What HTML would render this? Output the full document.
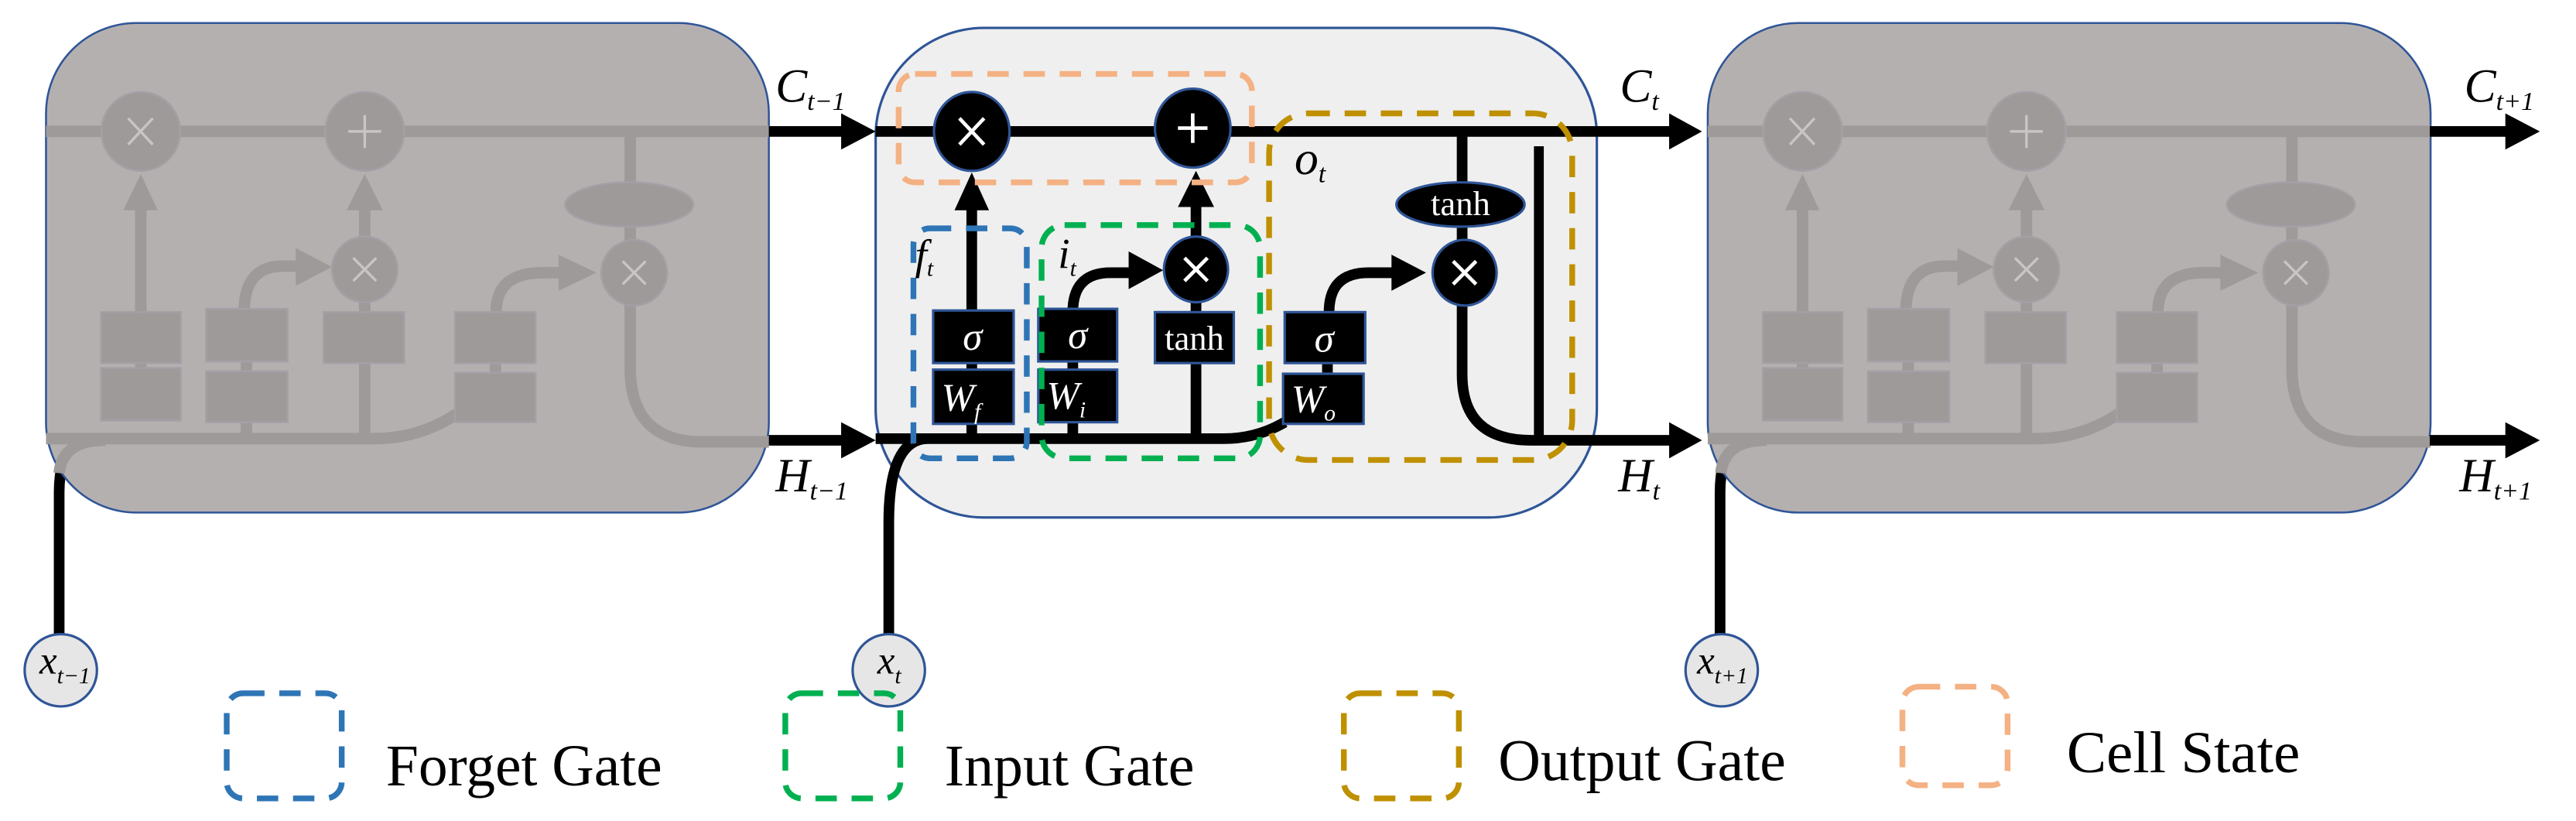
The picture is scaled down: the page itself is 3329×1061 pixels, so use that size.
<!DOCTYPE html>
<html><head><meta charset="utf-8"><style>
html,body{margin:0;padding:0;background:#fff;}
svg{display:block;}
svg text{font-family:"Liberation Serif","Times New Roman","Noto Serif CJK SC","DejaVu Serif",serif;}
</style></head><body>
<svg width="3329" height="1061" viewBox="0 0 1568 499.75" xmlns="http://www.w3.org/2000/svg">
<defs>
<g id="gcell">
  <rect x="28" y="14" width="440" height="298" rx="55" fill="#b5b0b0" stroke="#2f5597" stroke-width="1.2"/>
  <g stroke="#9e9a99" stroke-width="7" fill="none">
    <line x1="28" y1="80" x2="468" y2="80"/>
    <path d="M28 267 L228 267 Q255 267 278 252"/>
    <path d="M36 288 Q38 268 64 268"/>
    <line x1="85.7" y1="256" x2="85.7" y2="126"/>
    <line x1="150" y1="267" x2="150" y2="188"/>
    <path d="M148.6 190 Q148.6 162 172 162 L182 162"/>
    <line x1="222" y1="267" x2="222" y2="124"/>
    <line x1="301.5" y1="221" x2="301.5" y2="228"/>
    <path d="M302 190 Q302 166 330 166 L342 166"/>
    <path d="M383.6 80 L383.6 224 Q383.6 269 428 269 L468 269"/>
  </g>
  <g fill="#9e9a99" stroke="#a3a0a6" stroke-width="1.2">
    <polygon points="75,128 96,128 85.7,106" stroke="none"/>
    <polygon points="211,128 233,128 222,106" stroke="none"/>
    <polygon points="180,151 180,174 202,162.5" stroke="none"/>
    <polygon points="340,155 340,177 363,166" stroke="none"/>
    <rect x="61.5" y="190" width="48.5" height="31"/>
    <rect x="61.5" y="224" width="48.5" height="32"/>
    <rect x="125.5" y="188" width="49.5" height="32"/>
    <rect x="125.5" y="226" width="49.5" height="31"/>
    <rect x="197" y="190" width="49" height="31"/>
    <rect x="277" y="190" width="49" height="31"/>
    <rect x="277" y="227" width="49" height="30"/>
    <ellipse cx="85.7" cy="80" rx="24" ry="24"/>
    <ellipse cx="222" cy="80" rx="24" ry="24"/>
    <ellipse cx="222" cy="164" rx="20" ry="20"/>
    <ellipse cx="386" cy="166" rx="20" ry="20"/>
    <ellipse cx="383" cy="124.5" rx="39" ry="13.5"/>
  </g>
  <g stroke="#c9c5c5" stroke-width="1.6">
    <line x1="78" y1="72" x2="93" y2="88"/><line x1="93" y1="72" x2="78" y2="88"/>
    <line x1="222" y1="70" x2="222" y2="90"/><line x1="212" y1="80" x2="232" y2="80"/>
    <line x1="215" y1="157" x2="229" y2="171"/><line x1="229" y1="157" x2="215" y2="171"/>
    <line x1="379" y1="159" x2="393" y2="173"/><line x1="393" y1="159" x2="379" y2="173"/>
  </g>
</g>
</defs>

<g stroke="#000" stroke-width="6.5" fill="none">
  <path d="M36 387 L36 300 Q36 290 38 282"/>
  <path d="M1047 387 L1047 300 Q1047 290 1049 282"/>
</g>

<use href="#gcell"/>
<use href="#gcell" transform="translate(1011.5,0)"/>

<rect x="533" y="17" width="439" height="298" rx="66" fill="#efefef" stroke="#2f5597" stroke-width="1.5"/>

<g stroke="#000" stroke-width="6.5" fill="none">
  <line x1="468" y1="80" x2="514" y2="80"/>
  <line x1="468" y1="268" x2="514" y2="268"/>
  <line x1="533" y1="80" x2="1019" y2="80"/>
  <path d="M533 267 L745 267 Q765 267 782 257"/>
  <path d="M541 387 L541 318 Q541 268 564 267"/>
  <line x1="591.5" y1="267" x2="591.5" y2="126"/>
  <line x1="653" y1="267" x2="653" y2="188"/>
  <path d="M653 190 Q653 166 676 166 L689 166"/>
  <line x1="728" y1="267" x2="728" y2="124"/>
  <line x1="808" y1="221" x2="808" y2="228"/>
  <path d="M809 190 Q809 166 833 166 L849 166"/>
  <path d="M890 80 L890 228 Q890 268 932 268 L1019 268"/>
  <line x1="936.7" y1="89" x2="936.7" y2="268" stroke-width="6"/>
  <line x1="1479" y1="80" x2="1527" y2="80"/>
  <line x1="1479" y1="268" x2="1527" y2="268"/>
</g>
<g fill="#000">
  <polygon points="512,69 512,91 533,80"/>
  <polygon points="512,257 512,279 533,268"/>
  <polygon points="1016,69 1016,91 1036,80"/>
  <polygon points="1016,257 1016,279 1036,268"/>
  <polygon points="1525,69 1525,91 1546,80"/>
  <polygon points="1525,257 1525,279 1546,268"/>
  <polygon points="581,128 602,128 591.5,105"/>
  <polygon points="717,126 739,126 728,104"/>
  <polygon points="687,153 687,176 708,164.5"/>
  <polygon points="847,155 847,177 868,166"/>
</g>

<g fill="#000" stroke="#2f5597" stroke-width="1.5">
  <rect x="568" y="189" width="49" height="32"/>
  <rect x="568" y="225" width="49" height="33"/>
  <rect x="632" y="188" width="48" height="32"/>
  <rect x="632" y="225" width="48" height="32"/>
  <rect x="703" y="190" width="48" height="31"/>
  <rect x="782" y="190" width="49" height="31"/>
  <rect x="781" y="227.5" width="49" height="30.5"/>
  <ellipse cx="591.5" cy="80" rx="23" ry="24"/>
  <ellipse cx="726" cy="78" rx="23" ry="24"/>
  <ellipse cx="728" cy="164" rx="19.5" ry="20"/>
  <ellipse cx="891.5" cy="166" rx="19.5" ry="20"/>
  <ellipse cx="889" cy="124.5" rx="39" ry="13.5"/>
</g>
<g stroke="#fff" stroke-width="2.2">
  <line x1="584" y1="72" x2="599" y2="88"/><line x1="599" y1="72" x2="584" y2="88"/>
  <line x1="726" y1="69" x2="726" y2="87"/><line x1="717" y1="78" x2="735" y2="78"/>
  <line x1="721" y1="157" x2="735" y2="171"/><line x1="735" y1="157" x2="721" y2="171"/>
  <line x1="884.5" y1="159" x2="898.5" y2="173"/><line x1="898.5" y1="159" x2="884.5" y2="173"/>
</g>
<g fill="#fff" font-size="24" text-anchor="middle">
  <text x="592" y="213" font-style="italic">σ</text>
  <text x="656" y="212" font-style="italic">σ</text>
  <text x="806" y="214" font-style="italic">σ</text>
  <text x="727" y="213" font-size="21">tanh</text>
  <text x="889" y="131" font-size="21">tanh</text>
</g>
<g fill="#fff" font-style="italic" font-size="24">
  <text x="573" y="250">W<tspan font-size="14" dy="5">f</tspan></text>
  <text x="637" y="249">W<tspan font-size="14" dy="5">i</tspan></text>
  <text x="786" y="251">W<tspan font-size="14" dy="5">o</tspan></text>
</g>

<g fill="none" stroke-width="3.5" stroke-dasharray="13 9">
  <rect x="547" y="45" width="215" height="66" rx="10" stroke="#f4b183"/>
  <rect x="556" y="139" width="69" height="140" rx="10" stroke="#2e75b6"/>
  <rect x="634" y="137" width="133" height="142" rx="14" stroke="#00b050"/>
  <rect x="772.5" y="69" width="184.5" height="211" rx="24" stroke="#bf9000"/>
</g>

<g font-style="italic" fill="#000">
  <text x="557" y="164" font-size="26">f<tspan font-size="14" dy="4">t</tspan></text>
  <text x="644" y="163" font-size="26">i<tspan font-size="14" dy="5">t</tspan></text>
  <text x="788" y="106" font-size="29">o<tspan font-size="16" dy="5">t</tspan></text>
  <text x="472" y="62" font-size="29">C<tspan font-size="16" dy="5">t−1</tspan></text>
  <text x="472" y="299" font-size="29">H<tspan font-size="16" dy="5">t−1</tspan></text>
  <text x="986" y="62" font-size="29">C<tspan font-size="16" dy="5">t</tspan></text>
  <text x="985" y="299" font-size="29">H<tspan font-size="16" dy="5">t</tspan></text>
  <text x="1500" y="62" font-size="29">C<tspan font-size="16" dy="5">t+1</tspan></text>
  <text x="1497" y="299" font-size="29">H<tspan font-size="16" dy="5">t+1</tspan></text>
</g>

<g fill="#e7e6e6" stroke="#2f5597" stroke-width="1.5">
  <ellipse cx="37" cy="408" rx="22" ry="22"/>
  <ellipse cx="541" cy="408" rx="22" ry="22"/>
  <ellipse cx="1048" cy="408" rx="22" ry="22"/>
</g>
<g font-style="italic" fill="#000" font-size="24">
  <text x="24" y="410">x<tspan font-size="14" dy="6">t−1</tspan></text>
  <text x="534" y="410">x<tspan font-size="14" dy="6">t</tspan></text>
  <text x="1033" y="410">x<tspan font-size="14" dy="6">t+1</tspan></text>
</g>

<g fill="none" stroke-width="3.5" stroke-dasharray="13 9">
  <rect x="138" y="422" width="70" height="64" rx="10" stroke="#2e75b6"/>
  <rect x="478" y="422" width="70" height="64" rx="10" stroke="#00b050"/>
  <rect x="818" y="422" width="70" height="64" rx="10" stroke="#bf9000"/>
  <rect x="1158" y="418" width="64" height="60" rx="10" stroke="#f4b183"/>
</g>
<g font-size="36" fill="#000">
  <text x="235" y="478" textLength="168" lengthAdjust="spacingAndGlyphs">Forget Gate</text>
  <text x="575" y="478" textLength="152" lengthAdjust="spacingAndGlyphs">Input Gate</text>
  <text x="912" y="475" textLength="175" lengthAdjust="spacingAndGlyphs">Output Gate</text>
  <text x="1258" y="470" textLength="142" lengthAdjust="spacingAndGlyphs">Cell State</text>
</g>
</svg>
</body></html>
